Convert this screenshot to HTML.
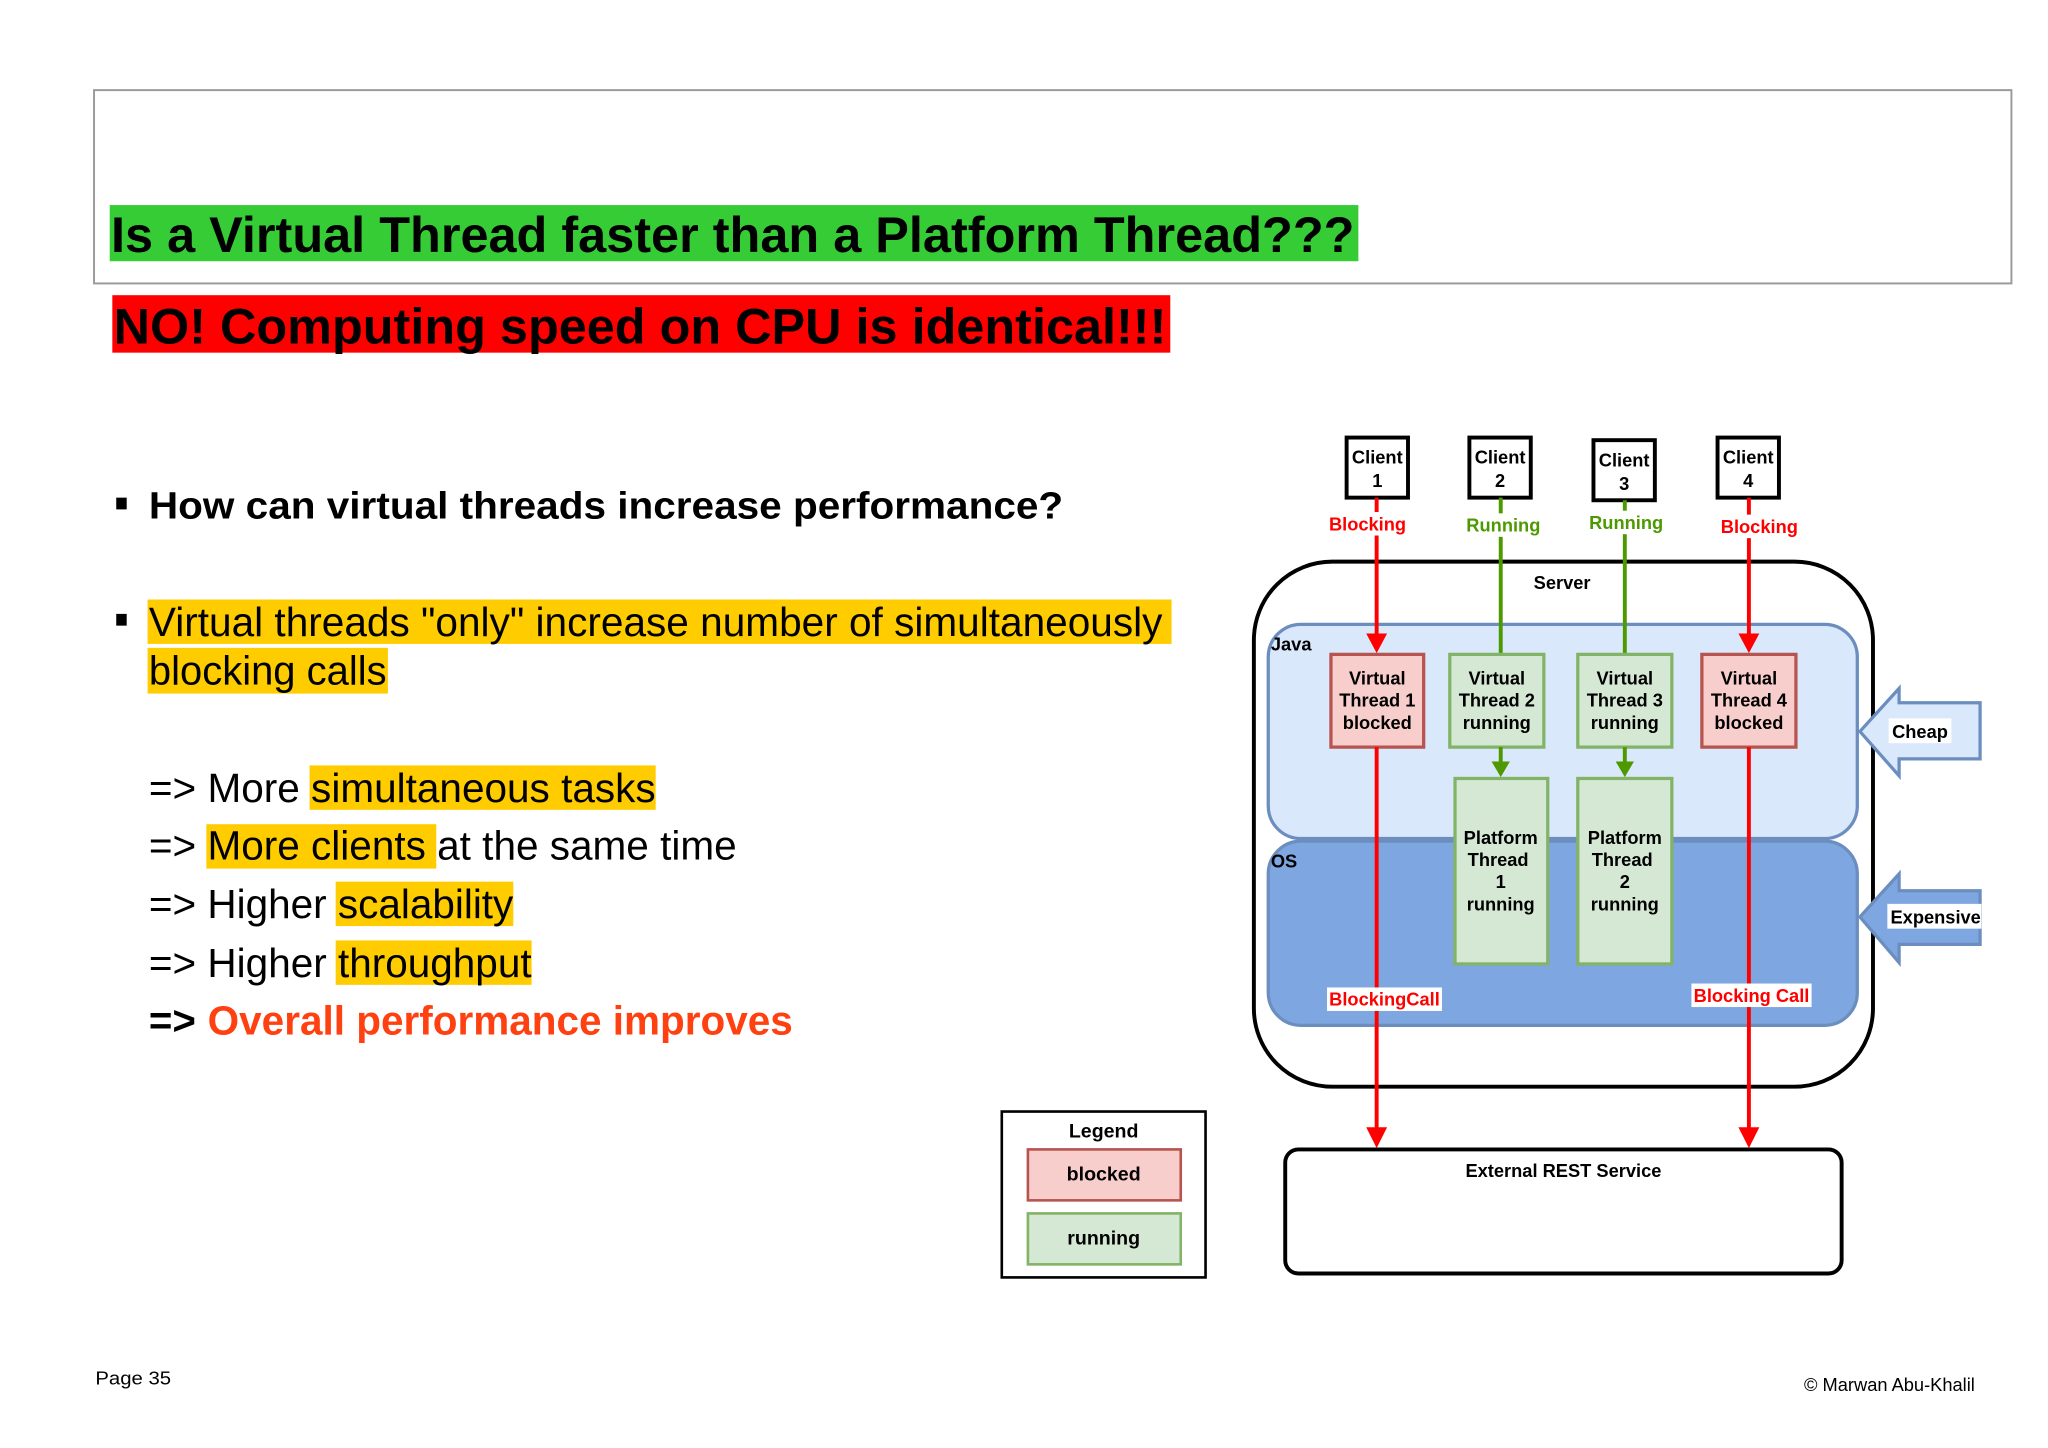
<!DOCTYPE html>
<html><head><meta charset="utf-8"><style>
html,body{margin:0;padding:0;background:#fff;}
svg{display:block;}
text{font-family:"Liberation Sans",Arial,sans-serif;}
.b{font-weight:bold;}
</style></head><body>
<svg width="2048" height="1448" viewBox="0 0 1568 1108.6" preserveAspectRatio="none" xmlns="http://www.w3.org/2000/svg">
<rect x="0" y="0" width="1568" height="1108.6" fill="#fff"/>
<!-- title box -->
<rect x="72" y="69" width="1468" height="148" fill="none" stroke="#9a9a9a" stroke-width="1.5"/>
<rect x="84" y="157" width="956" height="43" fill="#36cc36"/>
<text x="85" y="193" class="b" font-size="38" textLength="952" lengthAdjust="spacingAndGlyphs">Is a Virtual Thread faster than a Platform Thread???</text>
<rect x="86" y="226" width="810" height="44" fill="#ff0000"/>
<text x="87" y="263" class="b" font-size="38" textLength="806" lengthAdjust="spacingAndGlyphs">NO! Computing speed on CPU is identical!!!</text>

<!-- bullets -->
<rect x="89" y="381" width="8" height="9" fill="#000"/>
<text x="114" y="397" class="b" font-size="29" textLength="700" lengthAdjust="spacingAndGlyphs">How can virtual threads increase performance?</text>
<rect x="89" y="470" width="8" height="9" fill="#000"/>
<rect x="113" y="459" width="784" height="34" fill="#ffcc00"/>
<rect x="113" y="496" width="184" height="35" fill="#ffcc00"/>
<text x="114" y="487" font-size="31" textLength="776" lengthAdjust="spacingAndGlyphs">Virtual threads "only" increase number of simultaneously</text>
<text x="114" y="524" font-size="31" textLength="182" lengthAdjust="spacingAndGlyphs">blocking calls</text>

<rect x="237" y="586" width="265" height="34" fill="#ffcc00"/>
<text x="114" y="614" font-size="31" textLength="388" lengthAdjust="spacingAndGlyphs">=&gt; More simultaneous tasks</text>
<rect x="158" y="631" width="176" height="34" fill="#ffcc00"/>
<text x="114" y="658" font-size="31" textLength="450" lengthAdjust="spacingAndGlyphs">=&gt; More clients at the same time</text>
<rect x="257" y="675" width="136" height="34" fill="#ffcc00"/>
<text x="114" y="703" font-size="31" textLength="279" lengthAdjust="spacingAndGlyphs">=&gt; Higher scalability</text>
<rect x="257" y="720" width="150" height="34" fill="#ffcc00"/>
<text x="114" y="748" font-size="31" textLength="293" lengthAdjust="spacingAndGlyphs">=&gt; Higher throughput</text>
<text x="114" y="792" font-size="31" class="b" textLength="36" lengthAdjust="spacingAndGlyphs">=&gt;</text>
<text x="159" y="792" font-size="31" class="b" fill="#ff4010" textLength="448" lengthAdjust="spacingAndGlyphs">Overall performance improves</text>

<text x="73" y="1060" font-size="14" textLength="58" lengthAdjust="spacingAndGlyphs">Page 35</text>
<text x="1512" y="1065" font-size="14" text-anchor="end">© Marwan Abu-Khalil</text>

<!-- legend -->
<rect x="767" y="851" width="156" height="127" fill="#fff" stroke="#000" stroke-width="2"/>
<text x="845" y="871" class="b" font-size="15" text-anchor="middle">Legend</text>
<rect x="787" y="880" width="117" height="39" fill="#f8cecc" stroke="#b85450" stroke-width="2"/>
<text x="845" y="904" class="b" font-size="15" text-anchor="middle">blocked</text>
<rect x="787" y="929" width="117" height="39" fill="#d5e8d4" stroke="#82b366" stroke-width="2"/>
<text x="845" y="953" class="b" font-size="15" text-anchor="middle">running</text>

<!-- server -->
<rect x="960" y="430" width="474" height="402" rx="60" fill="#fff" stroke="#000" stroke-width="3"/>
<text x="1196" y="451" class="b" font-size="14" text-anchor="middle">Server</text>
<rect x="971" y="478" width="451" height="164" rx="25" fill="#dae8fc" stroke="#6c8ebf" stroke-width="2.5"/>
<text x="973" y="498" class="b" font-size="14">Java</text>
<rect x="971" y="644" width="451" height="141" rx="25" fill="#7ea6e0" stroke="#6c8ebf" stroke-width="2.5"/>
<text x="973" y="664" class="b" font-size="14">OS</text>

<!-- external -->
<rect x="984" y="880" width="426" height="95" rx="10" fill="#fff" stroke="#000" stroke-width="3"/>
<text x="1197" y="901" class="b" font-size="14" text-anchor="middle">External REST Service</text>

<!-- clients -->
<g stroke="#000" stroke-width="3" fill="#fff">
<rect x="1031" y="335" width="47" height="46"/>
<rect x="1125" y="335" width="47" height="46"/>
<rect x="1220" y="337" width="47" height="46"/>
<rect x="1315" y="335" width="47" height="46"/>
</g>
<g class="b" font-size="14" text-anchor="middle">
<text x="1054.5" y="355">Client</text><text x="1054.5" y="373">1</text>
<text x="1148.5" y="355">Client</text><text x="1148.5" y="373">2</text>
<text x="1243.5" y="357">Client</text><text x="1243.5" y="375">3</text>
<text x="1338.5" y="355">Client</text><text x="1338.5" y="373">4</text>
</g>

<!-- lines -->
<line x1="1054" y1="381" x2="1054" y2="488" stroke="#ff0000" stroke-width="3"/>
<path d="M1046,485 L1062,485 L1054,500 z" fill="#ff0000"/>
<line x1="1339" y1="381" x2="1339" y2="488" stroke="#ff0000" stroke-width="3"/>
<path d="M1331,485 L1347,485 L1339,500 z" fill="#ff0000"/>
<line x1="1149" y1="381" x2="1149" y2="501" stroke="#4d9900" stroke-width="3"/>
<line x1="1244" y1="383" x2="1244" y2="501" stroke="#4d9900" stroke-width="3"/>

<!-- VT boxes -->
<rect x="1019" y="501" width="71" height="71" fill="#f8cecc" stroke="#b85450" stroke-width="2.5"/>
<rect x="1110" y="501" width="72" height="71" fill="#d5e8d4" stroke="#82b366" stroke-width="2.5"/>
<rect x="1208" y="501" width="72" height="71" fill="#d5e8d4" stroke="#82b366" stroke-width="2.5"/>
<rect x="1303" y="501" width="72" height="71" fill="#f8cecc" stroke="#b85450" stroke-width="2.5"/>
<g class="b" font-size="14" text-anchor="middle">
<text x="1054.5" y="524">Virtual</text><text x="1054.5" y="541">Thread 1</text><text x="1054.5" y="558">blocked</text>
<text x="1146" y="524">Virtual</text><text x="1146" y="541">Thread 2</text><text x="1146" y="558">running</text>
<text x="1244" y="524">Virtual</text><text x="1244" y="541">Thread 3</text><text x="1244" y="558">running</text>
<text x="1339" y="524">Virtual</text><text x="1339" y="541">Thread 4</text><text x="1339" y="558">blocked</text>
</g>

<!-- green arrows -->
<line x1="1149" y1="572" x2="1149" y2="585" stroke="#4d9900" stroke-width="3"/>
<path d="M1142,583 L1156,583 L1149,595 z" fill="#4d9900"/>
<line x1="1244" y1="572" x2="1244" y2="585" stroke="#4d9900" stroke-width="3"/>
<path d="M1237,583 L1251,583 L1244,595 z" fill="#4d9900"/>

<!-- platform boxes -->
<rect x="1114" y="596" width="71" height="142" fill="#d5e8d4" stroke="#82b366" stroke-width="2.5"/>
<rect x="1208" y="596" width="72" height="142" fill="#d5e8d4" stroke="#82b366" stroke-width="2.5"/>
<g class="b" font-size="14" text-anchor="middle">
<text x="1149" y="646">Platform</text><text x="1147" y="663">Thread</text><text x="1149" y="680">1</text><text x="1149" y="697">running</text>
<text x="1244" y="646">Platform</text><text x="1242" y="663">Thread</text><text x="1244" y="680">2</text><text x="1244" y="697">running</text>
</g>

<!-- red lines down -->
<line x1="1054" y1="572" x2="1054" y2="866" stroke="#ff0000" stroke-width="3"/>
<path d="M1046,863 L1062,863 L1054,879 z" fill="#ff0000"/>
<line x1="1339" y1="572" x2="1339" y2="866" stroke="#ff0000" stroke-width="3"/>
<path d="M1331,863 L1347,863 L1339,879 z" fill="#ff0000"/>

<!-- labels -->
<g class="b" font-size="14">
<rect x="1017" y="392" width="61" height="18" fill="#fff"/>
<text x="1047" y="406" fill="#ff0000" text-anchor="middle">Blocking</text>
<rect x="1121" y="393" width="60" height="18" fill="#fff"/>
<text x="1151" y="407" fill="#4d9900" text-anchor="middle">Running</text>
<rect x="1215" y="391" width="60" height="18" fill="#fff"/>
<text x="1245" y="405" fill="#4d9900" text-anchor="middle">Running</text>
<rect x="1316" y="394" width="62" height="18" fill="#fff"/>
<text x="1347" y="408" fill="#ff0000" text-anchor="middle">Blocking</text>
<rect x="1016" y="756" width="88" height="18" fill="#fff"/>
<text x="1060" y="770" fill="#ff0000" text-anchor="middle">BlockingCall</text>
<rect x="1295" y="753" width="92" height="18" fill="#fff"/>
<text x="1341" y="767" fill="#ff0000" text-anchor="middle">Blocking Call</text>
</g>

<!-- cheap / expensive arrows -->
<path d="M1424,560 L1454,527 L1454,538 L1516,538 L1516,581 L1454,581 L1454,594 z" fill="#dae8fc" stroke="#6c8ebf" stroke-width="2.5"/>
<rect x="1446" y="550" width="48" height="19" fill="#fff"/>
<text x="1470" y="565" class="b" font-size="14" text-anchor="middle">Cheap</text>
<path d="M1424,702 L1454,669 L1454,682 L1516,682 L1516,723 L1454,723 L1454,737 z" fill="#7ea6e0" stroke="#6c8ebf" stroke-width="2.5"/>
<rect x="1445" y="692" width="72" height="19" fill="#fff"/>
<text x="1482" y="707" class="b" font-size="14" text-anchor="middle">Expensive</text>
</svg>
</body></html>
